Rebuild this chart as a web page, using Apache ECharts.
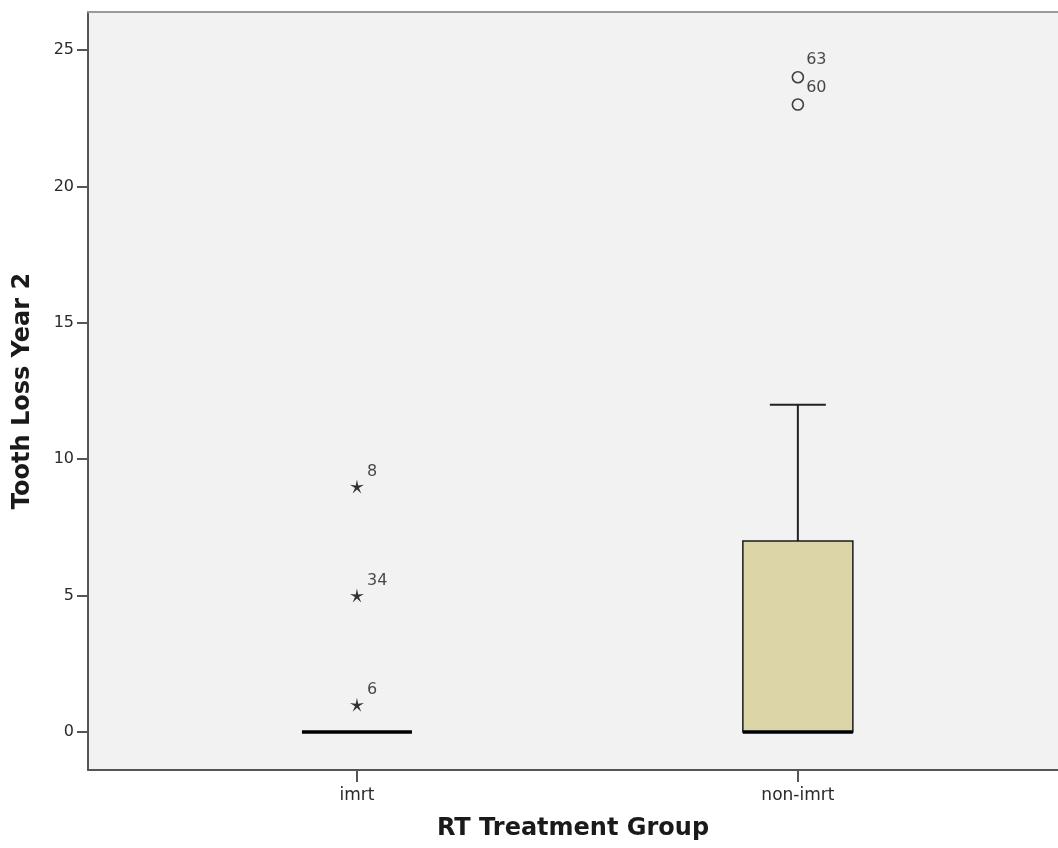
<!DOCTYPE html>
<html>
<head>
<meta charset="utf-8">
<script src="https://cdn.jsdelivr.net/npm/echarts@6/dist/echarts.min.js"></script>
<style>
  html, body { margin: 0; padding: 0; background: #ffffff; }
  #chart { width: 1058px; height: 848px; }
</style>
</head>
<body>
<div id="chart"></div>
<script>
// Groups on the horizontal axis (placed at x = 1, 2)
const categories = ['imrt', 'non-imrt'];
const categoryPositions = [1, 2];

// Five-number summaries per group: [min, Q1, median, Q3, max]
const boxStats = [
  [0, 0, 0, 0, 0],
  [0, 0, 0, 7, 12]
];

// Extreme values (stars) with case ids
const extremeGroup = [1, 1, 1];
const extremeValues = [1, 5, 9];
const extremeIds = ['6', '34', '8'];

// Outliers (circles) with case ids
const outlierGroup = [2, 2];
const outlierValues = [23, 24];
const outlierIds = ['60', '63'];

// Vertical axis ticks
const yTicks = [0, 5, 10, 15, 20, 25];

const boxData = categoryPositions.map((x, i) => [x].concat(boxStats[i]));
const extremeData = extremeValues.map((v, i) => [extremeGroup[i], v, extremeIds[i]]);
const outlierData = outlierValues.map((v, i) => [outlierGroup[i], v, outlierIds[i]]);

const STAR = 'path://M50 0 L58.23 38.67 L97.55 34.55 L63.31 54.33 L79.39 90.45 L50 64 L20.61 90.45 L36.69 54.33 L2.45 34.55 L41.77 38.67 Z';
const FONT = 'DejaVu Sans';

const chart = echarts.init(document.getElementById('chart'), null, { renderer: 'canvas' });

function renderBox(params, api) {
  const x = api.value(0);
  const lo = api.value(1), q1 = api.value(2), med = api.value(3), q3 = api.value(4), hi = api.value(5);
  const halfW = 55, capHalf = 28;
  const pMed = api.coord([x, med]);
  const pQ1 = api.coord([x, q1]);
  const pQ3 = api.coord([x, q3]);
  const pLo = api.coord([x, lo]);
  const pHi = api.coord([x, hi]);
  const cx = pMed[0];
  const children = [];
  if (hi > q3) {
    children.push({ type: 'line', shape: { x1: cx, y1: pQ3[1], x2: cx, y2: pHi[1] }, style: { stroke: '#222', lineWidth: 2 } });
    children.push({ type: 'line', shape: { x1: cx - capHalf, y1: pHi[1], x2: cx + capHalf, y2: pHi[1] }, style: { stroke: '#222', lineWidth: 2 } });
  }
  if (lo < q1) {
    children.push({ type: 'line', shape: { x1: cx, y1: pQ1[1], x2: cx, y2: pLo[1] }, style: { stroke: '#222', lineWidth: 2 } });
    children.push({ type: 'line', shape: { x1: cx - capHalf, y1: pLo[1], x2: cx + capHalf, y2: pLo[1] }, style: { stroke: '#222', lineWidth: 2 } });
  }
  if (q3 > q1) {
    children.push({
      type: 'rect',
      shape: { x: cx - halfW, y: pQ3[1], width: halfW * 2, height: pQ1[1] - pQ3[1] },
      style: { fill: '#dbd5a7', stroke: '#1a1a1a', lineWidth: 1.5 }
    });
  }
  children.push({ type: 'line', shape: { x1: cx - halfW, y1: pMed[1], x2: cx + halfW, y2: pMed[1] }, style: { stroke: '#000', lineWidth: 3.5 } });
  return { type: 'group', children: children };
}

const option = {
  animation: false,
  backgroundColor: '#ffffff',
  grid: {
    left: 88, top: 12, width: 970, height: 758,
    outerBoundsMode: 'none',
    containLabel: false,
    show: true, backgroundColor: '#f2f2f2', borderWidth: 0
  },
  xAxis: [{
    type: 'value',
    min: 0.39, max: 2.59,
    position: 'bottom',
    name: 'RT Treatment Group',
    nameLocation: 'middle',
    nameGap: 47,
    nameMoveOverlap: false,
    nameTextStyle: { fontFamily: FONT, fontWeight: 'bold', fontSize: 24, color: '#1a1a1a' },
    axisLine: { show: true, onZero: false, lineStyle: { color: '#555555', width: 2 } },
    axisTick: { show: true, length: 12, customValues: categoryPositions, lineStyle: { color: '#555555', width: 2 } },
    axisLabel: {
      customValues: categoryPositions,
      formatter: (v) => categories[categoryPositions.indexOf(Math.round(v))] || '',
      fontFamily: FONT, fontSize: 17, color: '#2a2a2a', margin: 17
    },
    splitLine: { show: false }
  }, {
    type: 'value',
    min: 0.39, max: 2.59,
    position: 'top',
    axisLine: { show: true, onZero: false, lineStyle: { color: '#9a9a9a', width: 2 } },
    axisTick: { show: false },
    axisLabel: { show: false },
    splitLine: { show: false }
  }],
  yAxis: {
    type: 'value',
    min: -1.393, max: 26.393,
    name: 'Tooth Loss Year 2',
    nameLocation: 'middle',
    nameRotate: 90,
    nameGap: 53,
    nameMoveOverlap: false,
    nameTextStyle: { fontFamily: FONT, fontWeight: 'bold', fontSize: 24, color: '#1a1a1a' },
    axisLine: { show: true, onZero: false, lineStyle: { color: '#555555', width: 2 } },
    axisTick: { show: true, length: 11, customValues: yTicks, lineStyle: { color: '#555555', width: 2 } },
    axisLabel: { customValues: yTicks, fontFamily: FONT, fontSize: 16, color: '#2a2a2a', margin: 14 },
    splitLine: { show: false }
  },
  series: [{
    type: 'custom',
    xAxisIndex: 0,
    renderItem: renderBox,
    data: boxData,
    encode: { x: 0, y: [1, 2, 3, 4, 5] },
    clip: true,
    z: 2
  }, {
    type: 'scatter',
    xAxisIndex: 0,
    data: extremeData,
    symbol: STAR,
    symbolSize: 14,
    itemStyle: { color: '#000000' },
    label: {
      show: true, position: 'right', distance: 3, offset: [0, -15],
      formatter: (p) => p.data[2],
      fontFamily: FONT, fontSize: 16, color: '#1a1a1a'
    },
    z: 3
  }, {
    type: 'scatter',
    xAxisIndex: 0,
    data: outlierData,
    symbol: 'circle',
    symbolSize: 11,
    itemStyle: { color: 'rgba(0,0,0,0)', borderColor: '#111111', borderWidth: 1.6 },
    label: {
      show: true, position: 'right', distance: 2, offset: [0, -17],
      formatter: (p) => p.data[2],
      fontFamily: FONT, fontSize: 16, color: '#1a1a1a'
    },
    z: 3
  }]
};

chart.setOption(option);
</script>
</body>
</html>
